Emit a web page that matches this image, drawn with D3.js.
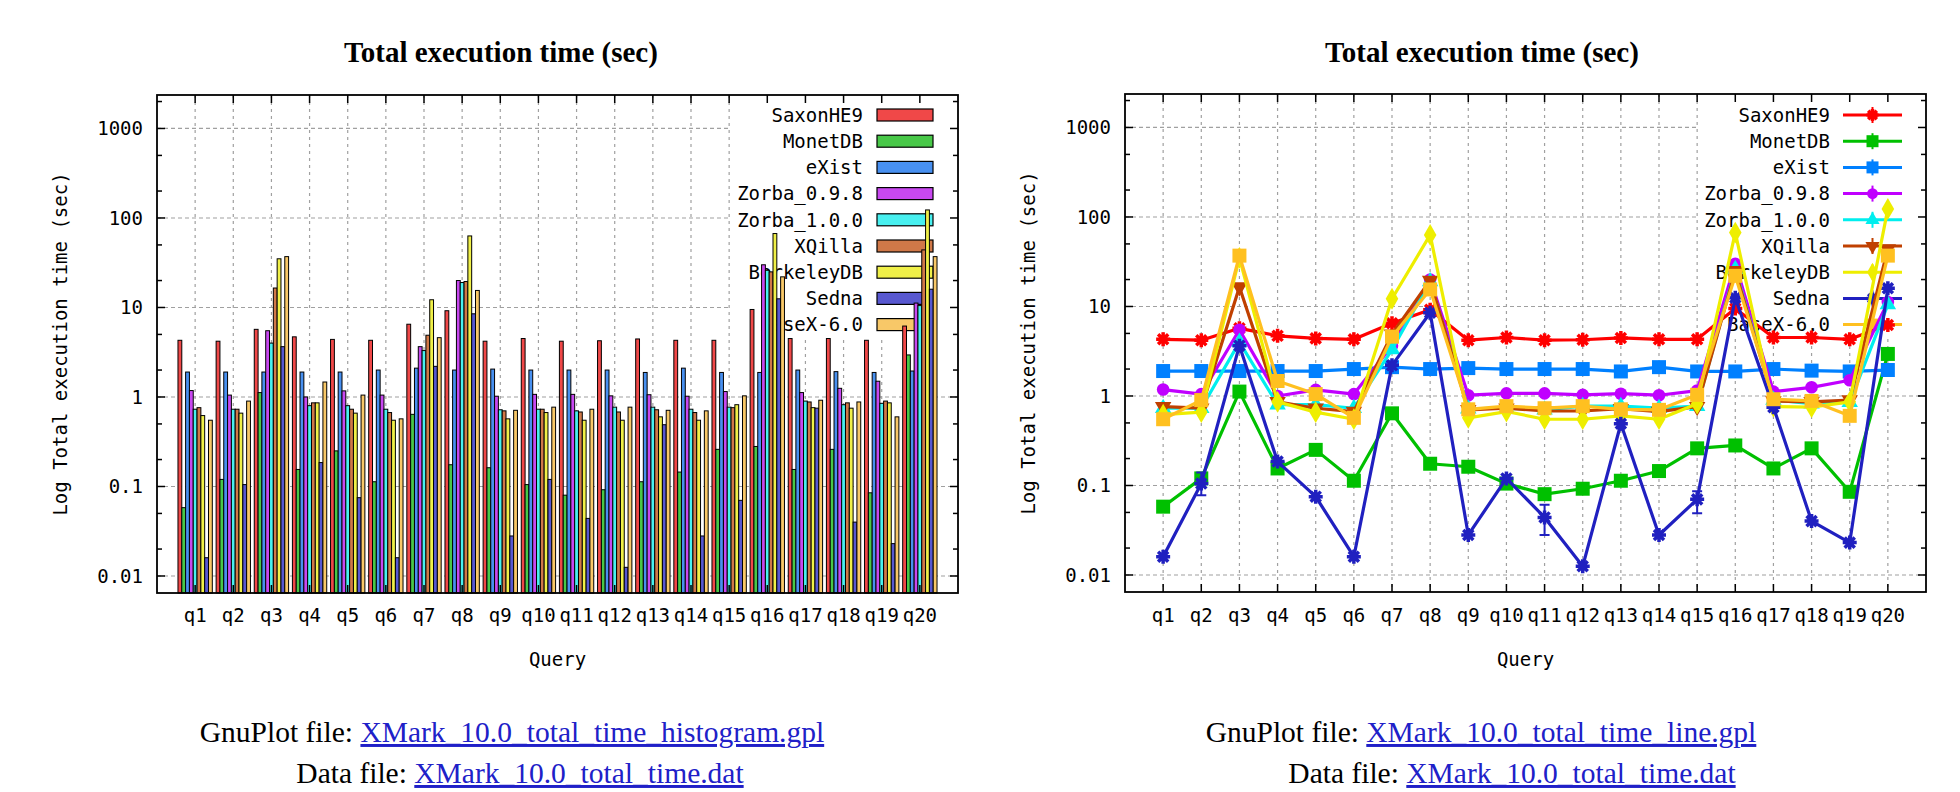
<!DOCTYPE html>
<html><head><meta charset="utf-8">
<script src="https://cdn.jsdelivr.net/npm/d3@7/dist/d3.min.js"></script>
<style>
body{margin:0;background:#fff;}
svg{display:block;}
</style></head><body>
<svg id="c" width="1960" height="792"></svg>
<script>
// ---------------- DATA ----------------
const queries = ['q1','q2','q3','q4','q5','q6','q7','q8','q9','q10','q11','q12','q13','q14','q15','q16','q17','q18','q19','q20'];
const seriesNames = ['SaxonHE9','MonetDB','eXist','Zorba_0.9.8','Zorba_1.0.0','XQilla','BerkeleyDB','Sedna','BaseX-6.0'];

const saxonHE9   = [4.3, 4.2, 5.7, 4.7, 4.4, 4.3, 6.5, 9.2, 4.2, 4.5, 4.2, 4.25, 4.45, 4.3, 4.3, 9.5, 4.5, 4.5, 4.3, 6.2];
const monetDB    = [0.058, 0.12, 1.12, 0.155, 0.25, 0.113, 0.64, 0.175, 0.162, 0.105, 0.08, 0.092, 0.113, 0.145, 0.26, 0.28, 0.155, 0.26, 0.085, 2.95];
const eXist      = [1.9, 1.9, 1.9, 1.9, 1.9, 2.0, 2.1, 2.0, 2.05, 2.0, 2.0, 2.0, 1.88, 2.1, 1.88, 1.88, 2.0, 1.92, 1.88, 1.95];
const zorba098   = [1.18, 1.05, 5.5, 1.0, 1.17, 1.05, 3.65, 20, 1.02, 1.07, 1.07, 1.03, 1.06, 1.02, 1.15, 30, 1.12, 1.25, 1.5, 11.2];
const zorba100   = [0.73, 0.73, 4.0, 0.8, 0.8, 0.73, 3.3, 19, 0.72, 0.73, 0.7, 0.77, 0.77, 0.73, 0.77, 26, 0.9, 0.82, 0.85, 10.5];
const xqilla     = [0.76, 0.73, 16.5, 0.86, 0.73, 0.67, 4.9, 19.5, 0.7, 0.73, 0.68, 0.68, 0.72, 0.67, 0.76, 25, 0.88, 0.86, 0.9, 44];
const berkeleyDB = [0.62, 0.66, 35, 0.86, 0.66, 0.55, 12.2, 63, 0.57, 0.67, 0.55, 0.55, 0.6, 0.55, 0.82, 67, 0.76, 0.75, 0.86, 123];
const sedna      = [0.016, 0.105, 3.65, 0.185, 0.075, 0.016, 2.2, 8.5, 0.028, 0.12, 0.044, 0.0125, 0.49, 0.028, 0.07, 12.5, 0.75, 0.04, 0.023, 16];
const baseX      = [0.55, 0.9, 37, 1.47, 1.05, 0.57, 4.6, 15.5, 0.71, 0.77, 0.73, 0.77, 0.71, 0.7, 1.03, 22, 0.92, 0.88, 0.6, 37];
// Sedna error bars (only where visible)
const sednaErrLow  = [null, 0.078, null, null, null, null, null, null, null, null, 0.028, null, null, null, 0.049, null, null, null, null, null];
const sednaErrHigh = [null, 0.14,  null, null, null, null, null, null, null, null, 0.061, null, null, null, 0.086, null, null, null, null, null];

const seriesValues = [saxonHE9, monetDB, eXist, zorba098, zorba100, xqilla, berkeleyDB, sedna, baseX];

const yTickValues = [0.01, 0.1, 1, 10, 100, 1000];
const yTickLabels = ['0.01', '0.1', '1', '10', '100', '1000'];
const yMinorValues = [0.02, 0.05, 0.2, 0.5, 2, 5, 20, 50, 200, 500, 2000];

const titleText = 'Total execution time (sec)';
const yLabelText = 'Log Total execution time (sec)';
const xLabelText = 'Query';
const footer = [
  {label: 'GnuPlot file: ', link: 'XMark_10.0_total_time_histogram.gpl'},
  {label: 'GnuPlot file: ', link: 'XMark_10.0_total_time_line.gpl'}
];
const footer2 = {label: 'Data file: ', link: 'XMark_10.0_total_time.dat'};

// ---------------- STYLE ----------------
const lineColors = ['#ff0000','#00c000','#0080ff','#c000ff','#00eeee','#c04000','#eeee00','#2020c0','#ffc020'];
const barColors  = ['#f04848','#48c848','#4890f0','#c848f0','#48f0f0','#d07848','#f0f048','#5858d0','#f8c868'];
const markers    = ['star','square','square','circle','triangle','triangleDown','diamond','star','square'];

const MONO = '"DejaVu Sans Mono", monospace';
const SERIF = '"Liberation Serif", "Times New Roman", serif';
const svg = d3.select('#c');

const panels = [
  {type:'bar',  x0:157,  x1:958,  y0:95, y1:593, titleX:501,  keyX0:730,  keyY1:337, keyTextX:863,  footX:512, footX2:520},
  {type:'line', x0:1125, x1:1926, y0:94, y1:592, titleX:1482, keyX0:1698, keyY1:335, keyTextX:1830, footX:1481, footX2:1512}
];

function drawMarker(g, shape, x, y, color, s) {
  if (shape === 'star') {
    const r = s/2, d = r*0.72;
    g.append('path')
      .attr('d', `M${x-r},${y}L${x+r},${y}M${x},${y-r}L${x},${y+r}M${x-d},${y-d}L${x+d},${y+d}M${x-d},${y+d}L${x+d},${y-d}`)
      .attr('stroke', color).attr('stroke-width', 3.5).attr('fill', 'none');
    return;
  }
  let sym, rot = 0, area;
  if (shape === 'square') { sym = d3.symbolSquare; area = s*s; }
  else if (shape === 'circle') { sym = d3.symbolCircle; area = Math.PI*(s*0.45)*(s*0.45); }
  else if (shape === 'triangle') { sym = d3.symbolTriangle; area = s*s*0.6; }
  else if (shape === 'triangleDown') { sym = d3.symbolTriangle; area = s*s*0.6; rot = 180; }
  else if (shape === 'diamond') { sym = d3.symbolDiamond; area = s*s*0.7; }
  g.append('path')
    .attr('d', d3.symbol().type(sym).size(area)())
    .attr('transform', `translate(${x},${y}) rotate(${rot})`)
    .attr('fill', color);
}

panels.forEach((p, pi) => {
  const g = svg.append('g');
  const x = d3.scaleLinear().domain([0, 21]).range([p.x0, p.x1]);
  const y = d3.scaleLog().domain([Math.pow(10, -2.19), Math.pow(10, 3.374)]).range([p.y1, p.y0]);

  // title
  g.append('text').attr('x', p.titleX).attr('y', 62).attr('text-anchor', 'middle')
    .attr('font-family', SERIF).attr('font-weight', 'bold').attr('font-size', 29)
    .attr('fill', '#000').text(titleText);

  // grid
  const grid = g.append('g').attr('stroke', '#a0a0a0').attr('stroke-width', 1.2);
  yTickValues.forEach(v => {
    grid.append('line').attr('x1', p.x0).attr('x2', p.x1).attr('y1', y(v)).attr('y2', y(v))
      .attr('stroke-dasharray', '4,3');
  });
  queries.forEach((q, i) => {
    grid.append('line').attr('x1', x(i+1)).attr('x2', x(i+1)).attr('y1', p.y0).attr('y2', p.y1)
      .attr('stroke-dasharray', '3,4');
  });

  // key box (opaque)
  g.append('rect').attr('x', p.keyX0).attr('y', p.y0 + 1).attr('width', p.x1 - p.keyX0 - 1)
    .attr('height', p.keyY1 - p.y0).attr('fill', '#fff');

  const keyG = g.append('g');
  seriesNames.forEach((name, k) => {
    const cy = 115 + k * 26.2;
    keyG.append('text').attr('x', p.keyTextX).attr('y', cy).attr('dy', '0.36em')
      .attr('text-anchor', 'end').attr('font-family', MONO).attr('font-size', 19)
      .attr('fill', '#000').text(name);
    if (p.type === 'bar') {
      keyG.append('rect').attr('x', p.keyTextX + 14).attr('y', cy - 6).attr('width', 56).attr('height', 12)
        .attr('fill', barColors[k]).attr('stroke', '#000').attr('stroke-width', 1.2);
    } else {
      const lx0 = p.keyTextX + 13, lx1 = p.keyTextX + 72, mx = (lx0 + lx1) / 2;
      keyG.append('line').attr('x1', lx0).attr('x2', lx1).attr('y1', cy).attr('y2', cy)
        .attr('stroke', lineColors[k]).attr('stroke-width', 3);
      keyG.append('line').attr('x1', mx).attr('x2', mx).attr('y1', cy - 8).attr('y2', cy + 8)
        .attr('stroke', lineColors[k]).attr('stroke-width', 2);
      drawMarker(keyG, markers[k], mx, cy, lineColors[k], 12);
    }
  });

  // data
  const dataG = g.append('g');
  if (p.type === 'bar') {
    const slot = x(1) - x(0);
    const bw = slot / 10;
    const groupW = bw * seriesNames.length;
    queries.forEach((q, i) => {
      seriesValues.forEach((vals, s) => {
        const bx = x(i+1) - groupW/2 + s*bw;
        const by = y(vals[i]);
        dataG.append('rect').attr('x', bx).attr('y', by).attr('width', bw).attr('height', p.y1 - by)
          .attr('fill', barColors[s]).attr('stroke', '#000').attr('stroke-width', 1);
      });
    });
  } else {
    const line = d3.line().x((d, i) => x(i+1)).y(d => y(d));
    seriesValues.forEach((vals, s) => {
      dataG.append('path').attr('d', line(vals)).attr('fill', 'none')
        .attr('stroke', lineColors[s]).attr('stroke-width', 3.2).attr('stroke-linejoin', 'round');
      if (s === 7) {
        sednaErrLow.forEach((lo, i) => {
          if (lo == null) return;
          const xi = x(i+1), ylo = y(lo), yhi = y(sednaErrHigh[i]);
          dataG.append('path')
            .attr('d', `M${xi},${ylo}L${xi},${yhi}M${xi-5},${ylo}L${xi+5},${ylo}M${xi-5},${yhi}L${xi+5},${yhi}`)
            .attr('stroke', lineColors[s]).attr('stroke-width', 2).attr('fill', 'none');
        });
      }
      vals.forEach((v, i) => drawMarker(dataG, markers[s], x(i+1), y(v), lineColors[s], 14));
    });
  }

  // frame
  g.append('rect').attr('x', p.x0).attr('y', p.y0).attr('width', p.x1 - p.x0).attr('height', p.y1 - p.y0)
    .attr('fill', 'none').attr('stroke', '#000').attr('stroke-width', 1.8);

  // ticks
  const tk = g.append('g').attr('stroke', '#000').attr('stroke-width', 1.5);
  yTickValues.forEach(v => {
    tk.append('line').attr('x1', p.x0).attr('x2', p.x0 + 8).attr('y1', y(v)).attr('y2', y(v));
    tk.append('line').attr('x1', p.x1).attr('x2', p.x1 - 8).attr('y1', y(v)).attr('y2', y(v));
  });
  yMinorValues.forEach(v => {
    tk.append('line').attr('x1', p.x0).attr('x2', p.x0 + 5).attr('y1', y(v)).attr('y2', y(v));
    tk.append('line').attr('x1', p.x1).attr('x2', p.x1 - 5).attr('y1', y(v)).attr('y2', y(v));
  });
  queries.forEach((q, i) => {
    tk.append('line').attr('x1', x(i+1)).attr('x2', x(i+1)).attr('y1', p.y1).attr('y2', p.y1 - 8);
    tk.append('line').attr('x1', x(i+1)).attr('x2', x(i+1)).attr('y1', p.y0).attr('y2', p.y0 + 8);
  });

  // tick labels
  yTickValues.forEach((v, k) => {
    g.append('text').attr('x', p.x0 - 14).attr('y', y(v)).attr('dy', '0.36em').attr('text-anchor', 'end')
      .attr('font-family', MONO).attr('font-size', 19).attr('fill', '#000').text(yTickLabels[k]);
  });
  queries.forEach((q, i) => {
    g.append('text').attr('x', x(i+1)).attr('y', 622).attr('text-anchor', 'middle')
      .attr('font-family', MONO).attr('font-size', 19).attr('fill', '#000').text(q);
  });

  // axis labels
  g.append('text').attr('transform', `translate(${p.x0 - 97},${(p.y0 + p.y1)/2}) rotate(-90)`)
    .attr('text-anchor', 'middle').attr('dy', '0.36em').attr('font-family', MONO).attr('font-size', 19)
    .attr('fill', '#000').text(yLabelText);
  g.append('text').attr('x', (p.x0 + p.x1)/2).attr('y', 666).attr('text-anchor', 'middle')
    .attr('font-family', MONO).attr('font-size', 19).attr('fill', '#000').text(xLabelText);

  // footer
  const f1 = g.append('text').attr('x', p.footX).attr('y', 742).attr('text-anchor', 'middle')
    .attr('font-family', SERIF).attr('font-size', 29.5).attr('fill', '#000');
  f1.append('tspan').text(footer[pi].label);
  f1.append('tspan').attr('fill', '#2020c8').attr('text-decoration', 'underline').text(footer[pi].link);
  const f2 = g.append('text').attr('x', p.footX2).attr('y', 783).attr('text-anchor', 'middle')
    .attr('font-family', SERIF).attr('font-size', 29.5).attr('fill', '#000');
  f2.append('tspan').text(footer2.label);
  f2.append('tspan').attr('fill', '#2020c8').attr('text-decoration', 'underline').text(footer2.link);
});
</script>
</body></html>
